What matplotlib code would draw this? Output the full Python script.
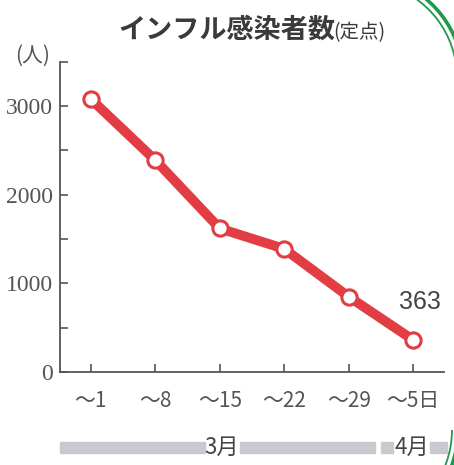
import matplotlib
matplotlib.use("Agg")
import matplotlib.pyplot as plt
from matplotlib.patches import Rectangle, Arc
import numpy as np

plt.rcParams['font.family'] = ['Noto Sans CJK JP', 'DejaVu Sans']

weeks = ["〜1", "〜8", "〜15", "〜22", "〜29", "〜5日"]
infected = [3080, 2390, 1620, 1390, 850, 363]
y_ticks = [0, 1000, 2000, 3000]
y_minor = [500, 1500, 2500, 3500]
months = ["3月", "4月"]

red = "#e23d43"
gray = "#555555"
W, H = 454, 465

fig = plt.figure(figsize=(4.54, 4.65), dpi=100)
ax = fig.add_axes([0.132, 0.2, 0.846, 0.667])

x = np.arange(len(weeks))
ax.plot(x, infected, color=red, lw=7, solid_capstyle="round", zorder=2)
ax.plot(x, infected, "o", ms=11, mfc="white", mec=red, mew=2.2, zorder=3)

ax.set_xlim(-0.48, 5.48)
ax.set_ylim(0, 3480)
ax.set_xticks(x)
ax.set_xticklabels(weeks, color=gray, fontsize=15)
ax.set_yticks(y_ticks)
ax.set_yticklabels([str(v) for v in y_ticks], color=gray, fontsize=17,
                   family="Liberation Serif")
ax.set_yticks(y_minor, minor=True)
ax.tick_params(axis="both", which="both", direction="in", color=gray, width=1.2)
ax.tick_params(axis="both", which="major", length=6)
ax.tick_params(axis="y", which="minor", length=6)
ax.tick_params(axis="x", pad=13)
ax.tick_params(axis="y", pad=5)
for s in ["top", "right"]:
    ax.spines[s].set_visible(False)
for s in ["left", "bottom"]:
    ax.spines[s].set_color(gray)
    ax.spines[s].set_linewidth(1.3)

ax.annotate(str(infected[-1]), (x[-1], infected[-1]), xytext=(-10, 22),
            textcoords="offset points", fontsize=18, color="#444444",
            family="Liberation Sans")

fig.text(118 / W, 1 - 30 / H, "インフル感染者数", fontsize=19.5, fontweight="bold",
         color="#3a3a3a", va="center")
fig.text(333 / W, 1 - 33 / H, "(定点)", fontsize=14, color="#3a3a3a", va="center")
fig.text(33 / W, 1 - 56 / H, "(人)", fontsize=15, color=gray, va="center", ha="center")

# month band
band = "#c9cacf"
for x0, x1 in [(60, 205), (240, 375), (381, 393), (430, 447)]:
    fig.patches.append(Rectangle((x0 / W, 1 - 453 / H), (x1 - x0) / W, 11 / H,
                                 transform=fig.transFigure, color=band))
fig.text(222 / W, 1 - 447 / H, months[0], fontsize=16, color="#444444",
         ha="center", va="center")
fig.text(412 / W, 1 - 447 / H, months[1], fontsize=16, color="#444444",
         ha="center", va="center")

# green frame arcs at the right edge
green = "#1f9a4c"
for r, lw in [(103, 2.6), (97, 1.3)]:
    fig.patches.append(Arc((360 / W, 1 - 78 / H), 2 * r / W, 2 * r / H, theta1=0, theta2=75,
                           transform=fig.transFigure, color=green, lw=lw))
    fig.patches.append(Arc((355 / W, 1 - 430 / H), 2 * r / W, 2 * r / H, theta1=-40, theta2=0,
                           transform=fig.transFigure, color=green, lw=lw))

fig.savefig("out.png", dpi=100, facecolor="white")
